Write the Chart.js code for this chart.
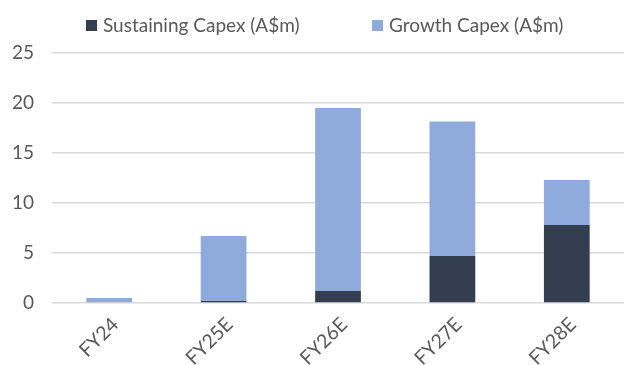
<!DOCTYPE html>
<html>
<head>
<meta charset="utf-8">
<script src="https://cdn.jsdelivr.net/npm/chart.js@4/dist/chart.umd.min.js"></script>
<style>
  html, body { margin: 0; padding: 0; background: #fff; }
  #wrap { position: relative; width: 627px; height: 365px; }
  #legend { position: absolute; top: 13px; left: 0; width: 627px; font-family: Lato, sans-serif; font-size: 19px; color: #595959; }
  #legend .item { position: absolute; top: 0; white-space: nowrap; }
  #legend .box { display: inline-block; width: 11px; height: 11px; margin-right: 6px; vertical-align: 1px; }
</style>
</head>
<body>
<div id="wrap">
  <canvas id="chart" width="627" height="365"></canvas>
  <div id="legend"></div>
</div>
<script>
const categories = ['FY24', 'FY25E', 'FY26E', 'FY27E', 'FY28E']
const sustaining = [0, 0.2, 1.2, 4.7, 7.8]
const growth = [0.5, 6.5, 18.3, 13.45, 4.5]
const seriesNames = ['Sustaining Capex (A$m)', 'Growth Capex (A$m)']
const seriesColors = ['#333f50', '#8faadc']
const yTicks = [0, 5, 10, 15, 20, 25]

const textColor = '#595959'
const fontFamily = 'Lato, sans-serif'

const datasets = [sustaining, growth].map((values, i) => ({
  label: seriesNames[i],
  data: values,
  backgroundColor: seriesColors[i],
  borderWidth: 0,
  barPercentage: 0.4,
  categoryPercentage: 1
}))

const chart = new Chart(document.getElementById('chart'), {
  type: 'bar',
  data: { labels: categories, datasets },
  options: {
    responsive: false,
    animation: false,
    layout: { padding: { top: 53, right: 3, left: 0, bottom: 0 } },
    plugins: {
      legend: { display: false },
      tooltip: { enabled: false }
    },
    scales: {
      x: {
        stacked: true,
        afterFit: (scale) => { scale.height = 62 },
        grid: { display: false, drawTicks: false },
        border: { display: false },
        ticks: {
          color: textColor,
          font: { family: fontFamily, size: 19.5 },
          maxRotation: 45,
          minRotation: 45,
          padding: 10,
          labelOffset: 6
        }
      },
      y: {
        stacked: true,
        min: 0,
        max: 25,
        afterFit: (scale) => { scale.width = 52 },
        afterBuildTicks: (scale) => { scale.ticks = yTicks.map((v) => ({ value: v })) },
        grid: { color: '#d9d9d9', lineWidth: 1.5, drawTicks: false },
        border: { display: false },
        ticks: {
          color: textColor,
          font: { family: fontFamily, size: 19 },
          padding: 18
        }
      }
    }
  }
})

// legend drawn as html, placed like the original
const legendX = [86, 372]
const legend = document.getElementById('legend')
chart.data.datasets.forEach((ds, i) => {
  const item = document.createElement('span')
  item.className = 'item'
  item.style.left = legendX[i] + 'px'
  item.innerHTML = `<span class="box" style="background:${ds.backgroundColor}"></span>${ds.label}`
  legend.appendChild(item)
})
</script>
</body>
</html>
